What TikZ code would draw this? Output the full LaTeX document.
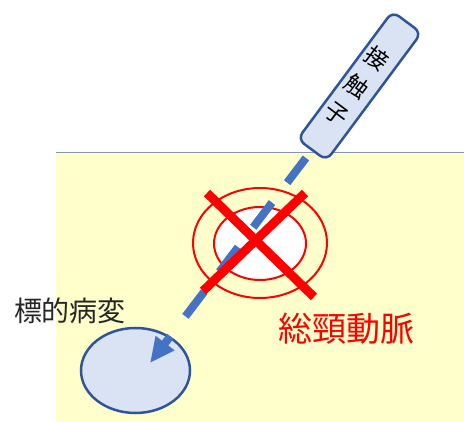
\documentclass[tikz,border=0pt]{standalone}
\usepackage{fontspec}
\newfontfamily\jp{Noto Sans CJK JP}
\usetikzlibrary{shapes.geometric,arrows.meta}
\definecolor{bgyellow}{HTML}{FFFFCC}
\definecolor{paleblue}{HTML}{DAE3F3}
\definecolor{darkblue}{HTML}{2F5597}
\definecolor{midblue}{HTML}{4472C4}
\definecolor{skinline}{HTML}{8497B0}
\definecolor{textgrey}{HTML}{262626}
\tikzset{
  redring/.style={ellipse, draw=red, line width=2pt, inner sep=0pt},
  crossline/.style={draw=red, line width=9pt},
  pathline/.style={draw=midblue, line width=8pt, dash pattern=on 31pt off 25pt, dash phase=47pt,
    -{Triangle[length=25pt,width=22pt]}},
  lesionshape/.style={ellipse, draw=darkblue, fill=paleblue, line width=2.5pt, inner sep=0pt},
  probeshape/.style={rectangle, rounded corners=8pt, draw=darkblue, fill=paleblue, line width=2.5pt, inner sep=0pt},
}
\begin{document}
\begin{tikzpicture}[x=1pt,y=-1pt]
\useasboundingbox (0,0) rectangle (464,422);
% tissue background
\fill[bgyellow] (56,152) rectangle (464,422);
\coordinate (skinL) at (56,152.5);
\coordinate (skinR) at (464,152.5);
\draw[skinline, line width=1.5pt] (skinL) -- (skinR);
% target lesion
\node[lesionshape, minimum width=109pt, minimum height=85pt] (lesion) at (135.5,370.5) {};
% carotid artery rings
\node[redring, minimum width=134pt, minimum height=110pt] (outer) at (260,243) {};
\node[redring, fill=white, minimum width=92pt, minimum height=73pt] (inner) at (260,243.5) {};
% probe
\node[probeshape, minimum width=159pt, minimum height=36pt, rotate=53.4] (probe) at (359.5,86) {};
\node[rotate=-36.6, align=center, inner sep=0pt, font=\jp\fontsize{23}{34}\selectfont] (probetext) at (357,86) {接\\触\\子};
% needle path
\coordinate (tip) at (150,363);
\draw[pathline] (probe.west) -- (tip);
% red cross
\coordinate (xa) at (207,193);
\coordinate (xb) at (314,297);
\coordinate (xc) at (305,193);
\coordinate (xd) at (203,291);
\draw[crossline] (xa) -- (xb);
\draw[crossline] (xc) -- (xd);
% labels
\node[font=\jp\fontsize{28}{32}\selectfont, text=textgrey, inner sep=0pt] (lesionlabel) at (70,311) {標的病変};
\node[font=\jp\fontsize{34}{38}\selectfont, text=red, inner sep=0pt] (arterylabel) at (346,329) {総頸動脈};
\end{tikzpicture}
\end{document}
